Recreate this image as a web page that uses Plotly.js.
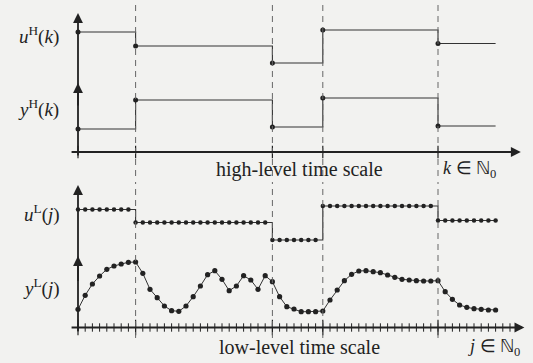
<!DOCTYPE html>
<html>
<head>
<meta charset="utf-8">
<script src="https://cdn.plot.ly/plotly-3.0.1.min.js"></script>
<style>html,body{margin:0;padding:0;background:#f2f2f0;}#chart{width:533px;height:363px;}</style>
</head>
<body>
<div id="chart"></div>
<script>
// High-level events (in low-level sample index j) and end of time axis
const kEvents = [0, 8, 27, 34, 50];
const jEnd = 58;

// High-level signals (one value per event k)
const uH = [12.0, 10.6, 8.9, 12.2, 10.85];
const yH = [2.3, 5.2, 2.5, 5.4, 2.6];

// Low-level signals (one value per sample j = 0..58)
const uL = [
  11.8, 11.8, 11.8, 11.8, 11.8, 11.8, 11.8, 11.8,
  10.5, 10.5, 10.5, 10.5, 10.5, 10.5, 10.5, 10.5, 10.5, 10.5, 10.5, 10.5, 10.5, 10.5, 10.5, 10.5, 10.5, 10.5, 10.5,
  8.75, 8.75, 8.75, 8.75, 8.75, 8.75, 8.75,
  12.15, 12.15, 12.15, 12.15, 12.15, 12.15, 12.15, 12.15, 12.15, 12.15, 12.15, 12.15, 12.15, 12.15, 12.15, 12.15,
  10.7, 10.7, 10.7, 10.7, 10.7, 10.7, 10.7, 10.7, 10.7
];
const yL = [
  1.82, 3.22, 4.35, 5.15, 5.82, 6.15, 6.35, 6.52, 6.55, 5.42,
  3.82, 2.98, 2.15, 1.68, 1.62, 2.15, 3.08, 4.15, 5.28, 5.68,
  4.82, 3.68, 4.15, 5.18, 4.75, 3.82, 5.18, 4.58, 3.08, 2.08,
  1.85, 1.58, 1.58, 1.58, 1.65, 2.75, 3.75, 4.68, 5.32, 5.65,
  5.68, 5.58, 5.48, 5.25, 5.02, 4.82, 4.75, 4.68, 4.65, 4.65,
  4.68, 3.58, 2.82, 2.25, 2.02, 1.88, 1.82, 1.75, 1.75
];

const jIdx = yL.map((_, i) => i);
const lowTicks = [];
for (let j = 0; j <= 60; j++) lowTicks.push(j);

const ink = '#222';
const sig = '#333';

// step data for high-level (hold last value to end of axis)
const xH = kEvents.concat([jEnd]);
const uHs = uH.concat([uH[uH.length - 1]]);
const yHs = yH.concat([yH[yH.length - 1]]);

const traces = [
  // top panel
  {x: xH, y: uHs, mode: 'lines', line: {shape: 'hv', color: sig, width: 1.1}, xaxis: 'x', yaxis: 'y', hoverinfo: 'skip'},
  {x: xH, y: yHs, mode: 'lines', line: {shape: 'hv', color: sig, width: 1.1}, xaxis: 'x', yaxis: 'y', hoverinfo: 'skip'},
  {x: kEvents, y: uH, mode: 'markers', marker: {size: 5, color: ink}, xaxis: 'x', yaxis: 'y'},
  {x: kEvents, y: yH, mode: 'markers', marker: {size: 5, color: ink}, xaxis: 'x', yaxis: 'y'},
  {x: kEvents, y: kEvents.map(() => 0), mode: 'markers', marker: {symbol: 'line-ns', size: 9, line: {width: 1.2, color: ink}}, xaxis: 'x', yaxis: 'y'},
  // bottom panel
  {x: jIdx, y: uL, mode: 'lines+markers', line: {shape: 'hv', color: sig, width: 1.1}, marker: {size: 4.5, color: ink}, xaxis: 'x', yaxis: 'y2'},
  {x: jIdx, y: yL, mode: 'lines+markers', line: {color: sig, width: 1}, marker: {size: 5.2, color: ink}, xaxis: 'x', yaxis: 'y2'},
  {x: lowTicks, y: lowTicks.map(() => 0), mode: 'markers', marker: {symbol: 'line-ns', size: 6, line: {width: 1, color: ink}}, xaxis: 'x', yaxis: 'y2'},
  {x: kEvents, y: kEvents.map(() => 0), mode: 'markers', marker: {symbol: 'line-ns', size: 11, line: {width: 1.2, color: ink}}, xaxis: 'x', yaxis: 'y2'}
];

const shapes = [];
kEvents.slice(1).forEach(k => {
  shapes.push({type: 'line', xref: 'x', yref: 'paper', x0: k, x1: k, y0: 1 - 176 / 363, y1: 1,
    line: {color: '#666', width: 1, dash: '6px,5px'}});
  shapes.push({type: 'line', xref: 'x', yref: 'paper', x0: k, x1: k, y0: 1 - 338 / 363, y1: 1 - 182 / 363,
    line: {color: '#666', width: 1, dash: '6px,5px'}});
});

function arrow(x, y, ax, ay, yref) {
  return {x: x, y: y, ax: ax, ay: ay, xref: 'x', yref: yref, axref: 'x', ayref: yref,
    text: '', showarrow: true, arrowhead: 2, arrowsize: 1.1, arrowwidth: 1.8, arrowcolor: ink, standoff: 0, startstandoff: 0};
}
const font = {family: 'Liberation Serif, Times New Roman, serif', size: 19, color: ink};
const fontBig = {family: 'Liberation Serif, Times New Roman, serif', size: 20, color: ink};
const fontSet = {family: 'Liberation Serif, Times New Roman, serif', size: 18, color: ink};
function label(text, x, y, yref, xanchor, f) {
  return {text: text, x: x, y: y, xref: 'x', yref: yref, showarrow: false, xanchor: xanchor, yanchor: 'middle', font: f || font};
}

const annotations = [
  // top axes
  arrow(61.5, 0, -1.1, 0, 'y'),
  arrow(0, 13.9, 0, -0.5, 'y'),
  arrow(0, 6.9, 0, 4.5, 'y'),
  // bottom axes
  arrow(62, 0, -1.1, 0, 'y2'),
  arrow(0, 14.25, 0, -0.5, 'y2'),
  arrow(0, 7.15, 0, 4.5, 'y2'),
  // labels
  label('<i>u</i><sup>H</sup>(<i>k</i>)', -2.4, 11.7, 'y', 'right'),
  label('<i>y</i><sup>H</sup>(<i>k</i>)', -2.4, 4.4, 'y', 'right'),
  label('<i>u</i><sup>L</sup>(<i>j</i>)', -2.2, 11.45, 'y2', 'right'),
  label('<i>y</i><sup>L</sup>(<i>j</i>)', -2.2, 4.05, 'y2', 'right'),
  label('high-level time scale', 30.7, -1.7, 'y', 'center', fontBig),
  label('<i>k</i> ∈ ℕ<sub>0</sub>', 50.4, -1.7, 'y', 'left', fontSet),
  label('low-level time scale', 30.8, -1.95, 'y2', 'center', fontBig),
  label('<i>j</i> ∈ ℕ<sub>0</sub>', 53.9, -1.95, 'y2', 'left', fontSet)
];

const hidden = {visible: false, showgrid: false, zeroline: false, fixedrange: true};
const layout = {
  width: 533, height: 363,
  margin: {l: 0, r: 0, t: 0, b: 0},
  paper_bgcolor: '#f2f2f0', plot_bgcolor: '#f2f2f0',
  showlegend: false,
  xaxis: Object.assign({}, hidden, {range: [-78 / 7.2, (533 - 78) / 7.2], domain: [0, 1]}),
  yaxis: Object.assign({}, hidden, {range: [-21.1, 15.2], domain: [0, 1]}),
  yaxis2: Object.assign({}, hidden, {range: [-3.55, 32.75], domain: [0, 1], overlaying: 'y'}),
  shapes: shapes,
  annotations: annotations
};

Plotly.newPlot('chart', traces, layout, {displayModeBar: false, staticPlot: true});
</script>
</body>
</html>
